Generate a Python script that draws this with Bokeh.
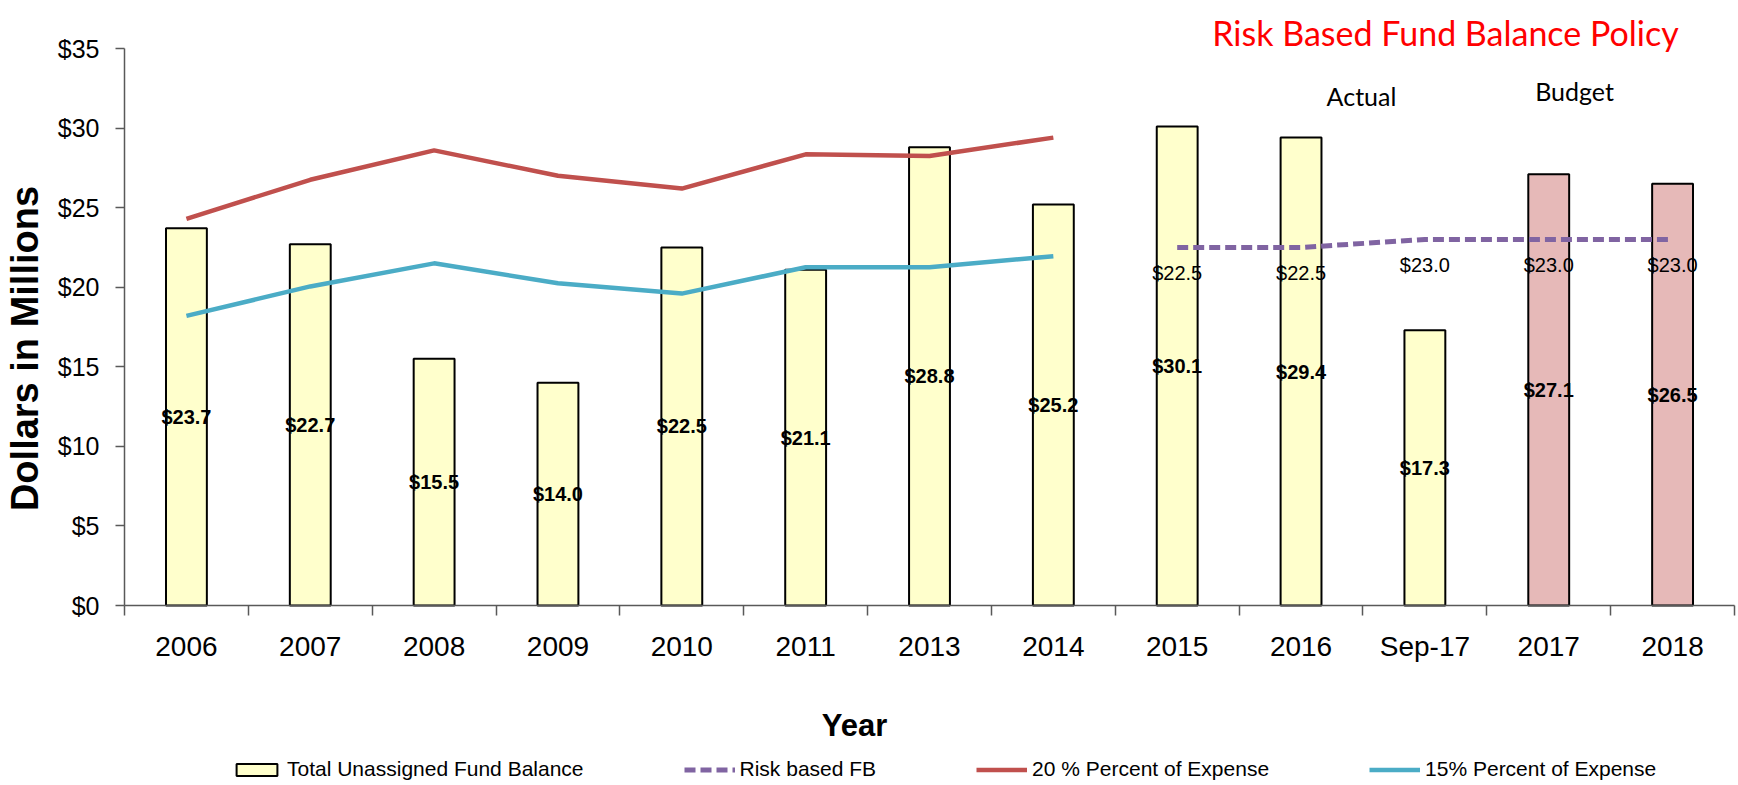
import math
from bokeh.plotting import figure
from bokeh.models import (ColumnDataSource, FixedTicker, Label, Legend, LegendItem,
                          NumeralTickFormatter, Range1d)
from bokeh.core.properties import value
from bokeh.embed import file_html
from bokeh.resources import INLINE

# ---------------- data ----------------
categories = ["2006", "2007", "2008", "2009", "2010", "2011", "2013", "2014",
              "2015", "2016", "Sep-17", "2017", "2018"]
fund_balance = [23.7, 22.7, 15.5, 14.0, 22.5, 21.1, 28.8, 25.2, 30.1, 29.4, 17.3, 27.1, 26.5]
bar_kind = ["Actual"] * 11 + ["Budget"] * 2

risk_categories = ["2015", "2016", "Sep-17", "2017", "2018"]
risk_based_fb = [22.5, 22.5, 23.0, 23.0, 23.0]

line_categories = ["2006", "2007", "2008", "2009", "2010", "2011", "2013", "2014"]
pct20_expense = [24.3, 26.75, 28.6, 27.0, 26.2, 28.35, 28.25, 29.4]
pct15_expense = [18.2, 20.05, 21.5, 20.25, 19.6, 21.25, 21.25, 21.95]

y_ticks = [0, 5, 10, 15, 20, 25, 30, 35]
y_max = 35

# ---------------- styles / layout ----------------
W, H = 1738, 785
FONT = "Liberation Sans"
kind_color = {"Actual": "#FFFFCC", "Budget": "#E6B9B8"}
AXIS_COLOR = "#595959"
AX_LEFT_PX, AX_RIGHT_PX = 124, 1734     # pixel extent of the category axis
AX_ZERO_PX, AX_TOP_PX = 605, 48         # pixel rows of $0 and $35

n = len(categories)
cat_px = (AX_RIGHT_PX - AX_LEFT_PX) / n
dollar_px = (AX_ZERO_PX - AX_TOP_PX) / y_max
x_start = -AX_LEFT_PX / cat_px
x_end = (W - AX_LEFT_PX) / cat_px
y_start = -(H - AX_ZERO_PX) / dollar_px
y_end = AX_ZERO_PX / dollar_px

pos = {c: i + 0.5 for i, c in enumerate(categories)}

bar_src = ColumnDataSource(dict(
    x=[pos[c] for c in categories],
    top=fund_balance,
    color=[kind_color[k] for k in bar_kind],
    mid=[v / 2 for v in fund_balance],
    label=["$%.1f" % v for v in fund_balance],
))
risk_src = ColumnDataSource(dict(
    x=[pos[c] for c in risk_categories],
    y=risk_based_fb,
    label=["$%.1f" % v for v in risk_based_fb],
))
line_src = ColumnDataSource(dict(
    x=[pos[c] for c in line_categories],
    p20=pct20_expense,
    p15=pct15_expense,
))

p = figure(width=W, height=H, output_backend="svg", toolbar_location=None,
           x_range=Range1d(x_start, x_end), y_range=Range1d(y_start, y_end))
p.min_border = 0
p.outline_line_color = None
p.xgrid.visible = False
p.ygrid.visible = False
p.background_fill_color = "white"
p.border_fill_color = "white"

bars = p.vbar(x="x", top="top", width=0.33, source=bar_src, fill_color="color",
              line_color="black", line_width=2)
r20 = p.line("x", "p20", source=line_src, line_color="#C0504D", line_width=4.5)
r15 = p.line("x", "p15", source=line_src, line_color="#4BACC6", line_width=4.5)
rrisk = p.line("x", "y", source=risk_src, line_color="#8064A2", line_width=5,
               line_dash="11 5")

p.text(x="x", y="mid", text="label", source=bar_src, text_align="center",
       text_baseline="middle", text_font=value(FONT), text_font_style="bold",
       text_font_size="20px", text_color="black")
p.text(x="x", y="y", text="label", source=risk_src, y_offset=26, text_align="center",
       text_baseline="middle", text_font=value(FONT), text_font_size="20px",
       text_color="black")

# x axis: labels at category centres, tick marks at category boundaries
xa = p.xaxis[0]
xa.fixed_location = 0
xa.bounds = (0, n)
xa.ticker = FixedTicker(ticks=[pos[c] for c in categories],
                        minor_ticks=list(range(n + 1)))
xa.major_label_overrides = {pos[c]: c for c in categories}
xa.major_tick_out = 0
xa.major_tick_in = 0
xa.minor_tick_out = 10
xa.minor_tick_in = 0
xa.minor_tick_line_color = AXIS_COLOR
xa.minor_tick_line_width = 1.5
xa.axis_line_color = AXIS_COLOR
xa.axis_line_width = 1.5
xa.major_label_text_font = FONT
xa.major_label_text_font_size = "28px"
xa.major_label_text_color = "black"
xa.major_label_standoff = 15

ya = p.yaxis[0]
ya.fixed_location = 0
ya.bounds = (0, y_max)
ya.ticker = FixedTicker(ticks=y_ticks)
ya.formatter = NumeralTickFormatter(format="$0")
ya.major_tick_out = 9
ya.major_tick_in = 0
ya.minor_tick_out = 0
ya.minor_tick_in = 0
ya.major_tick_line_color = AXIS_COLOR
ya.major_tick_line_width = 1.5
ya.axis_line_color = AXIS_COLOR
ya.axis_line_width = 1.5
ya.major_label_text_font = FONT
ya.major_label_text_font_size = "25px"
ya.major_label_text_color = "black"
ya.major_label_standoff = 16

# titles / annotations (screen units, measured from the bottom-left)
def lab(text, x, y, **kw):
    p.add_layout(Label(text=text, x=x, y=H - y, x_units="screen", y_units="screen",
                       text_color=kw.pop("text_color", "black"), **kw))

lab("Risk Based Fund Balance Policy", 1445, 32, text_align="center",
    text_baseline="alphabetic", text_color="#FF0000", text_font="Lato",
    text_font_size="34px")
lab("Actual", 1361, 95, text_align="center", text_baseline="alphabetic",
    text_font="Lato", text_font_size="25px")
lab("Budget", 1574, 90, text_align="center", text_baseline="alphabetic",
    text_font="Lato", text_font_size="25px")
lab("Dollars in Millions", 24, 348, angle=math.pi / 2, text_align="center",
    text_baseline="middle", text_font=FONT, text_font_style="bold",
    text_font_size="38px")
lab("Year", 854, 725, text_align="center", text_baseline="alphabetic",
    text_font=FONT, text_font_style="bold", text_font_size="31px")

legend = Legend(items=[
    LegendItem(label="Total Unassigned Fund Balance", renderers=[bars], index=0),
    LegendItem(label="Risk based FB", renderers=[rrisk]),
    LegendItem(label="20 % Percent of Expense", renderers=[r20]),
    LegendItem(label="15% Percent of Expense", renderers=[r15]),
], orientation="horizontal", location=(231, 2), glyph_width=51, glyph_height=15,
    label_standoff=5, spacing=100, padding=0, margin=0, border_line_alpha=0,
    background_fill_alpha=0, label_text_font=FONT, label_text_font_size="21px",
    label_text_color="black", label_height=28)
p.add_layout(legend, "center")

open("out.html", "w").write(file_html(p, INLINE))
